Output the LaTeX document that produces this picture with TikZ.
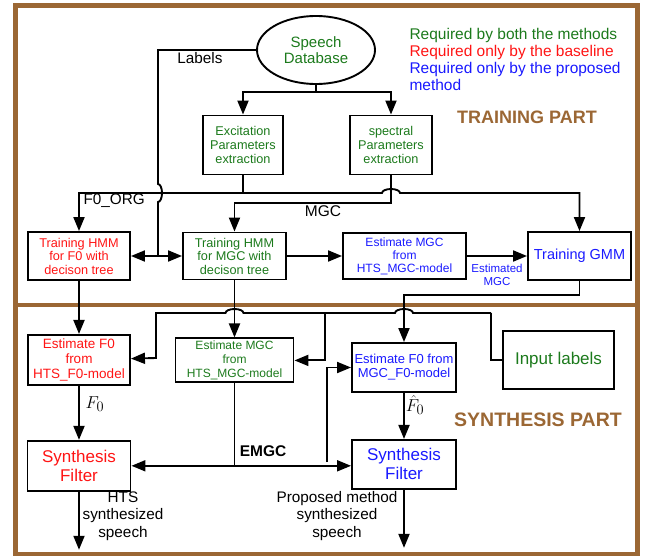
\documentclass[tikz,border=0pt]{standalone}
\usepackage{fontspec}
\setmainfont{Liberation Sans}
\usetikzlibrary{arrows.meta,positioning,shapes.geometric,calc}
\definecolor{bothgreen}{RGB}{28,122,28}
\definecolor{basered}{RGB}{255,20,20}
\definecolor{propblue}{RGB}{25,25,255}
\definecolor{partbrown}{RGB}{155,103,52}
\begin{document}
\begin{tikzpicture}[x=1pt, y=-1pt, >={Triangle[length=14pt,width=11pt]},
  fs/.style 2 args = {font=\fontsize{#1}{#2}\selectfont},
  box/.style = {draw, line width=1.9pt, inner sep=0pt, align=center},
  wire/.style = {line width=1.9pt},
  frame/.style = {draw=partbrown, line width=4.5pt}]
\useasboundingbox (0,0) rectangle (651,557);
\draw[frame] (15.5,5.5) rectangle (637.5,305);
\draw[frame] (15.5,305) rectangle (637.5,554);

\node[ellipse, draw, line width=1.9pt, minimum width=118pt, minimum height=68pt, inner sep=0pt,
  align=center, text=bothgreen, fs={15}{16.5}] (db) at (316,50) {Speech\\Database};
\node[box, text=bothgreen, fs={12.7}{14}, minimum width=80pt, minimum height=59pt] (exc) at (243,145) {Excitation\\Parameters\\extraction};
\node[box, text=bothgreen, fs={12.7}{14}, minimum width=82pt, minimum height=59pt] (spec) at (391,145) {spectral\\Parameters\\extraction};
\node[box, text=basered, fs={12.7}{13.5}, minimum width=102pt, minimum height=48pt] (trf0) at (79,256) {Training HMM\\for F0 with\\decison tree};
\node[box, text=bothgreen, fs={12.7}{13.5}, minimum width=103pt, minimum height=47pt] (trmgc) at (234.5,256) {Training HMM\\for MGC with\\decison tree};
\node[box, text=propblue, fs={12}{13}, minimum width=123pt, minimum height=46pt] (estmgc) at (404.5,256) {Estimate MGC\\from\\HTS\_MGC-model};
\node[box, text=propblue, fs={14.5}{16}, minimum width=103pt, minimum height=48pt] (gmm) at (579.5,256) {Training GMM};

\node[box, text=basered, fs={13.5}{15}, minimum width=102pt, minimum height=50pt, below=53pt of trf0] (estf0) {Estimate F0\\from\\HTS\_F0-model};
\node[box, text=bothgreen, fs={12}{14}, minimum width=118pt, minimum height=44pt, below=57pt of trmgc] (estmgc2) {Estimate MGC\\from\\HTS\_MGC-model};
\node[box, text=propblue, fs={13}{14}, minimum width=104pt, minimum height=49pt] (estf0m) at (404,367.5) {Estimate F0 from\\MGC\_F0-model};
\node[box, text=bothgreen, fs={17}{19}, minimum width=111pt, minimum height=58pt] (input) at (558.5,360) {Input labels};
\node[box, text=basered, fs={17}{19}, minimum width=103pt, minimum height=50pt, below=54pt of estf0] (synr) {Synthesis\\Filter};
\node[box, text=propblue, fs={17}{19}, minimum width=104pt, minimum height=49pt, below=46pt of estf0m] (synb) {Synthesis\\Filter};

\node[fs={15.3}{17}] (lbltxt) at (200,58) {Labels};
\node[fs={15.3}{17}, anchor=west] (f0txt) at (80,201) {F0\_ORG};
\node[fs={15.5}{17}] (mgctxt) at (323,211) {MGC};
\node[fs={11.5}{13}, text=propblue, align=center] (esttxt) at (497,275) {Estimated\\MGC};
\node[font=\fontsize{15.5}{17}\selectfont\bfseries] (emgctxt) at (263,451) {EMGC};
\node[fs={19}{21}, inner sep=1pt] (f0lbl) at (95,404) {$F_0$};
\node[fs={19}{21}, inner sep=1pt] (f0hatlbl) at (415,405) {$\hat F_0$};
\node[fs={15.3}{17.5}, align=center] (htstxt) at (123,516) {HTS\\synthesized\\speech};
\node[fs={15.3}{17.5}, align=center] (proptxt) at (337,516) {Proposed method\\synthesized\\speech};

\node[fs={15.5}{17}, text=bothgreen, anchor=base west] (leg1) at (406,39) {Required by both the methods};
\node[fs={15.5}{17}, text=basered, anchor=base west] (leg2) at (406,56) {Required only by the baseline};
\node[fs={15.5}{17}, text=propblue, anchor=base west] (leg3) at (406,73) {Required only by the proposed};
\node[fs={15.5}{17}, text=propblue, anchor=base west] (leg4) at (406,90) {method};
\node[font=\fontsize{18}{20}\selectfont\bfseries, text=partbrown] (trainpart) at (527,117) {TRAINING PART};
\node[font=\fontsize{19.5}{21}\selectfont\bfseries, text=partbrown] (synthpart) at (538,420) {SYNTHESIS PART};

\coordinate (dbsplit) at (316,92);
\coordinate (lblsplit) at (158,256);
\coordinate (f0bus) at (243,193);
\coordinate (mgcbus) at (300,203);
\coordinate (gmmbend) at (500,295);
\coordinate (inbus) at (491,313);
\coordinate (f0in) at (156,358);
\coordinate (mgcin) at (325,313);
\coordinate (emgc) at (estmgc2 |- synr);
\coordinate (emgcup) at (327,462);
\coordinate (outr) at ($(synr.south)+(0,58)$);
\coordinate (outb) at ($(synb.south)+(0,58)$);

\draw[wire] (db) -- (dbsplit);
\draw[wire,->] (dbsplit) -| (exc);
\draw[wire,->] (dbsplit) -| (spec);
\draw[wire] (db) -| ($(lblsplit |- f0bus)+(0,-9)$) arc[start angle=-90, end angle=90, x radius=4, y radius=9] -- (lblsplit);
\draw[wire,->] (lblsplit) -- (trf0);
\draw[wire,->] (lblsplit) -- (trmgc);
\draw[wire] (exc) -- (f0bus);
\draw[wire,->] (f0bus) -| (trf0);
\draw[wire,->] (f0bus) -- ($(f0bus -| spec)+(-9,0)$) arc[start angle=180, end angle=360, x radius=9, y radius=4] -| (gmm);
\draw[wire,->] (spec) |- (mgcbus) -| (trmgc);
\draw[wire,->] (trmgc) -- (estmgc);
\draw[wire,->] (estmgc) -- (gmm);
\draw[wire,->] (gmm) |- (gmmbend) -| (estf0m);

\draw[wire,->] (trf0) -- (estf0);
\draw[wire,->] (trmgc) -- (estmgc2);
\draw[wire] (input) -| (inbus);
\draw[wire,->] (inbus) -- ($(inbus -| estf0m)+(9,0)$) arc[start angle=0, end angle=-180, x radius=9, y radius=4]
  -- ($(inbus -| estmgc2)+(9,0)$) arc[start angle=0, end angle=-180, x radius=9, y radius=4] -| (f0in) -- (estf0);
\draw[wire,->] (mgcin) |- (estmgc2);
\draw[wire] (estmgc2) -- (emgc);
\draw[wire,->] (emgc) -- (synr);
\draw[wire,->] (emgc) -- (emgc -| synb.west);
\draw[wire,->] (emgcup) |- (estf0m);
\draw[wire,->] (estf0) -- (synr);
\draw[wire,->] (estf0m) -- (synb);
\draw[wire,->] (synr) -- (outr);
\draw[wire,->] (synb) -- (outb);
\end{tikzpicture}
\end{document}
